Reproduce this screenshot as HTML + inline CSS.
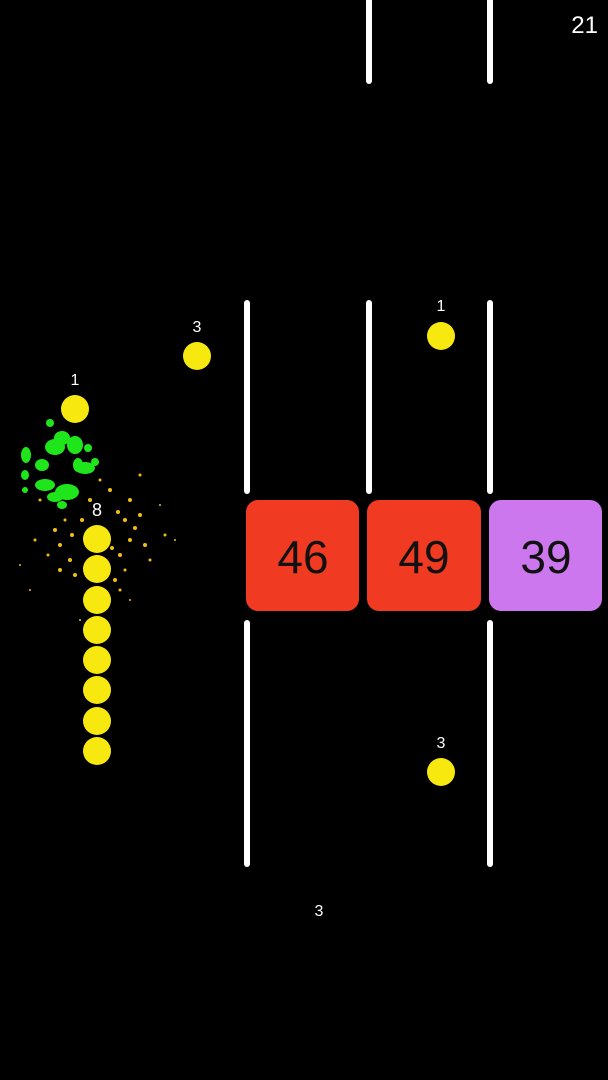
<!DOCTYPE html>
<html><head><style>
html,body{margin:0;padding:0;background:#000;}
svg{display:block}
text{font-family:"Liberation Sans",sans-serif;}
</style></head><body>
<svg width="608" height="1080" viewBox="0 0 608 1080" xmlns="http://www.w3.org/2000/svg">
<rect width="608" height="1080" fill="#000"/>
<text x="598" y="33" fill="#fff" font-size="24" text-anchor="end">21</text>
<g stroke="#fff" stroke-width="6" stroke-linecap="round">
<line x1="369" y1="-5" x2="369" y2="81"/>
<line x1="490" y1="-5" x2="490" y2="81"/>
<line x1="247" y1="303" x2="247" y2="491"/>
<line x1="369" y1="303" x2="369" y2="491"/>
<line x1="490" y1="303" x2="490" y2="491"/>
<line x1="247" y1="623" x2="247" y2="864"/>
<line x1="490" y1="623" x2="490" y2="864"/>
</g>
<rect x="246" y="500" width="113" height="111" rx="12" fill="#f03a22"/>
<rect x="367" y="500" width="114" height="111" rx="12" fill="#f03a22"/>
<rect x="489" y="500" width="113" height="111" rx="12" fill="#cc77ee"/>
<g fill="#111" font-size="46" text-anchor="middle">
<text x="303" y="573">46</text>
<text x="424" y="573">49</text>
<text x="546" y="573">39</text>
</g>
<g fill="#f7e90f">
<circle cx="197" cy="356" r="14"/>
<circle cx="441" cy="336" r="14"/>
<circle cx="75" cy="409" r="14"/>
<circle cx="441" cy="772" r="14"/>
</g>
<g fill="#fff" font-size="16" text-anchor="middle">
<text x="197" y="332">3</text>
<text x="441" y="311">1</text>
<text x="75" y="385">1</text>
<text x="441" y="748">3</text>
<text x="319" y="916">3</text>
</g>
<g fill="#1fe61a">
<ellipse cx="55" cy="447" rx="10" ry="8"/>
<ellipse cx="62" cy="438" rx="8" ry="7"/>
<ellipse cx="75" cy="445" rx="8" ry="9"/>
<ellipse cx="26" cy="455" rx="5" ry="8"/>
<ellipse cx="42" cy="465" rx="7" ry="6"/>
<ellipse cx="85" cy="468" rx="10" ry="6"/>
<ellipse cx="78" cy="465" rx="5" ry="7"/>
<ellipse cx="45" cy="485" rx="10" ry="6"/>
<ellipse cx="67" cy="492" rx="12" ry="8"/>
<ellipse cx="55" cy="497" rx="8" ry="5"/>
<ellipse cx="25" cy="475" rx="4" ry="5"/>
<ellipse cx="50" cy="423" rx="4" ry="4"/>
<ellipse cx="88" cy="448" rx="4" ry="4"/>
<ellipse cx="62" cy="505" rx="5" ry="4"/>
<ellipse cx="25" cy="490" rx="3" ry="3"/>
<ellipse cx="95" cy="462" rx="4" ry="4"/>
</g>
<g fill="#f0c010">
<circle cx="82" cy="520" r="2"/><circle cx="110" cy="490" r="2"/><circle cx="125" cy="520" r="2"/>
<circle cx="130" cy="540" r="2"/><circle cx="120" cy="555" r="2"/><circle cx="60" cy="545" r="2"/>
<circle cx="70" cy="560" r="2"/><circle cx="75" cy="575" r="2"/><circle cx="130" cy="500" r="2"/>
<circle cx="140" cy="515" r="2"/><circle cx="145" cy="545" r="2"/><circle cx="55" cy="530" r="2"/>
<circle cx="115" cy="580" r="2"/><circle cx="60" cy="570" r="2"/><circle cx="150" cy="560" r="1.5"/>
<circle cx="165" cy="535" r="1.5"/><circle cx="40" cy="500" r="1.5"/><circle cx="35" cy="540" r="1.5"/>
<circle cx="105" cy="600" r="1.5"/><circle cx="125" cy="570" r="1.5"/><circle cx="48" cy="555" r="1.5"/>
<circle cx="90" cy="500" r="2"/><circle cx="100" cy="480" r="1.5"/><circle cx="140" cy="475" r="1.5"/>
<circle cx="20" cy="565" r="1"/><circle cx="175" cy="540" r="1"/><circle cx="160" cy="505" r="1"/>
<circle cx="80" cy="620" r="1"/><circle cx="30" cy="590" r="1"/><circle cx="130" cy="600" r="1"/>
<circle cx="118" cy="512" r="2"/><circle cx="135" cy="528" r="2"/><circle cx="72" cy="535" r="2"/>
<circle cx="112" cy="548" r="2"/><circle cx="120" cy="590" r="1.5"/><circle cx="65" cy="520" r="1.5"/>
</g>
<g fill="#f7e90f">
<circle cx="97" cy="539" r="14"/><circle cx="97" cy="569" r="14"/><circle cx="97" cy="600" r="14"/>
<circle cx="97" cy="630" r="14"/><circle cx="97" cy="660" r="14"/><circle cx="97" cy="690" r="14"/>
<circle cx="97" cy="721" r="14"/><circle cx="97" cy="751" r="14"/>
</g>
<text x="97" y="516" fill="#fff" font-size="18" text-anchor="middle">8</text>
</svg>
</body></html>
